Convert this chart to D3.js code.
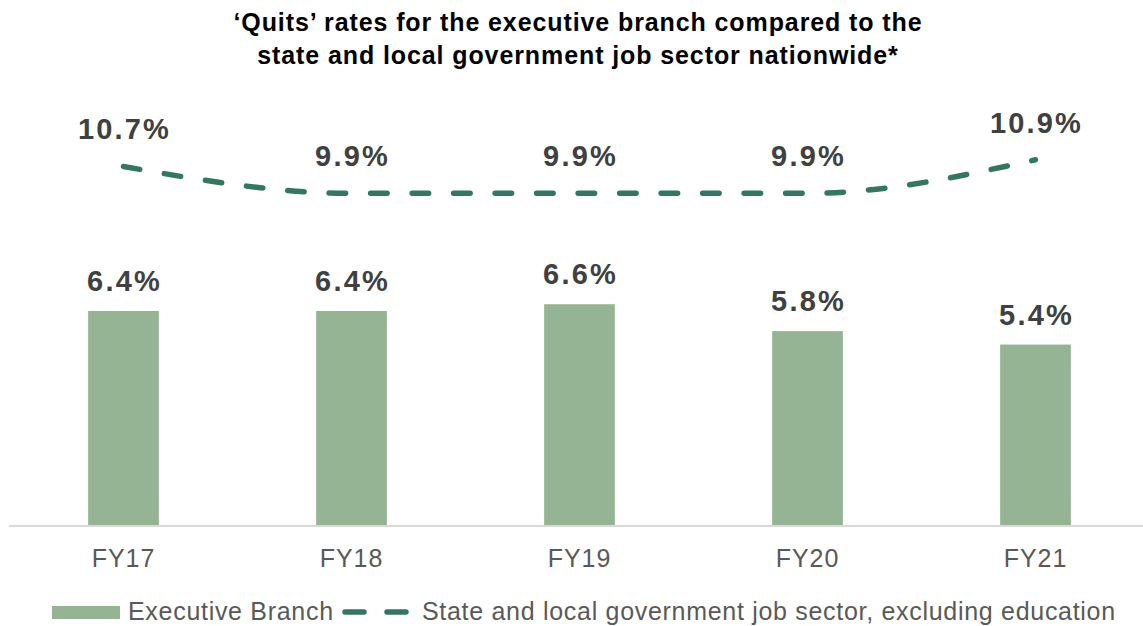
<!DOCTYPE html>
<html>
<head>
<meta charset="utf-8">
<script src="https://cdn.jsdelivr.net/npm/d3@7"></script>
<style>
  body { margin: 0; background: #fff; }
  text { font-family: "Liberation Sans", Arial, sans-serif; }
</style>
</head>
<body>
<svg id="chart"></svg>
<script>
// data
var years = ["FY17", "FY18", "FY19", "FY20", "FY21"];
var executiveBranch = [6.4, 6.4, 6.6, 5.8, 5.4];
var stateLocal = [10.7, 9.9, 9.9, 9.9, 10.9];
var titleLines = ["\u2018Quits\u2019 rates for the executive branch compared to the",
                  "state and local government job sector nationwide*"];
var legendLabels = ["Executive Branch", "State and local government job sector, excluding education"];

var width = 1143, height = 626;
var barColor = "#95b493", lineColor = "#317762", labelColor = "#404040", axisText = "#595959";

var svg = d3.select("#chart").attr("width", width).attr("height", height);

var x = d3.scaleBand().domain(years).range([9.5, 1149.5]).paddingInner(0.69).paddingOuter(0.345);
var y = d3.scaleLinear().domain([0, 12]).range([526, 526 - 12 * 33.6]);

// title
svg.append("g").selectAll("text")
  .data(titleLines).enter().append("text")
  .attr("x", 578)
  .attr("y", function(d, i) { return 31 + i * 33; })
  .attr("text-anchor", "middle")
  .attr("font-size", 25)
  .attr("font-weight", "bold")
  .attr("letter-spacing", 0.9)
  .attr("fill", "#000")
  .text(function(d) { return d; });

// bars
svg.append("g").selectAll("rect")
  .data(executiveBranch).enter().append("rect")
  .attr("x", function(d, i) { return x(years[i]); })
  .attr("y", function(d) { return y(d); })
  .attr("width", x.bandwidth())
  .attr("height", function(d) { return y(0) - y(d); })
  .attr("fill", barColor);

// x axis
var xAxis = svg.append("g")
  .attr("transform", "translate(0," + y(0) + ")")
  .call(d3.axisBottom(x).tickSize(0));
xAxis.select(".domain").attr("stroke", "#d9d9d9").attr("stroke-width", 2).attr("d", "M9,0H1143");
xAxis.selectAll("text").attr("font-size", 25).attr("fill", axisText).attr("letter-spacing", 1)
  .attr("font-family", "'Liberation Sans', Arial, sans-serif").attr("dy", 0).attr("y", 41);

// line
var line = d3.line()
  .x(function(d, i) { return x(years[i]) + x.bandwidth() / 2; })
  .y(function(d) { return y(d); })
  .curve(d3.curveMonotoneX);

svg.append("path")
  .datum(stateLocal)
  .attr("d", line)
  .attr("fill", "none")
  .attr("stroke", lineColor)
  .attr("stroke-width", 5.5)
  .attr("stroke-linecap", "round")
  .attr("stroke-dasharray", "16.5 25");

// value labels
function addLabels(values, gap) {
  svg.append("g").selectAll("text")
    .data(values).enter().append("text")
    .attr("x", function(d, i) { return x(years[i]) + x.bandwidth() / 2 + 1; })
    .attr("y", function(d) { return y(d) - gap; })
    .attr("text-anchor", "middle")
    .attr("font-size", 29)
    .attr("font-weight", "bold")
    .attr("letter-spacing", 2.2)
    .attr("fill", labelColor)
    .text(function(d) { return d.toFixed(1) + "%"; });
}
addLabels(executiveBranch, 20);
addLabels(stateLocal, 27);

// legend
var legend = svg.append("g").attr("transform", "translate(0,620)");
legend.append("rect").attr("x", 52).attr("y", -14).attr("width", 68).attr("height", 13).attr("fill", barColor);
legend.append("text").attr("x", 128).attr("y", 0).attr("font-size", 25).attr("letter-spacing", 0.7)
  .attr("fill", axisText).text(legendLabels[0]);
legend.append("line").attr("x1", 345).attr("x2", 406).attr("y1", -8).attr("y2", -8)
  .attr("stroke", lineColor).attr("stroke-width", 5.5).attr("stroke-linecap", "round")
  .attr("stroke-dasharray", "19 23");
legend.append("text").attr("x", 422).attr("y", 0).attr("font-size", 25).attr("letter-spacing", 0.7)
  .attr("fill", axisText).text(legendLabels[1]);
</script>
</body>
</html>
